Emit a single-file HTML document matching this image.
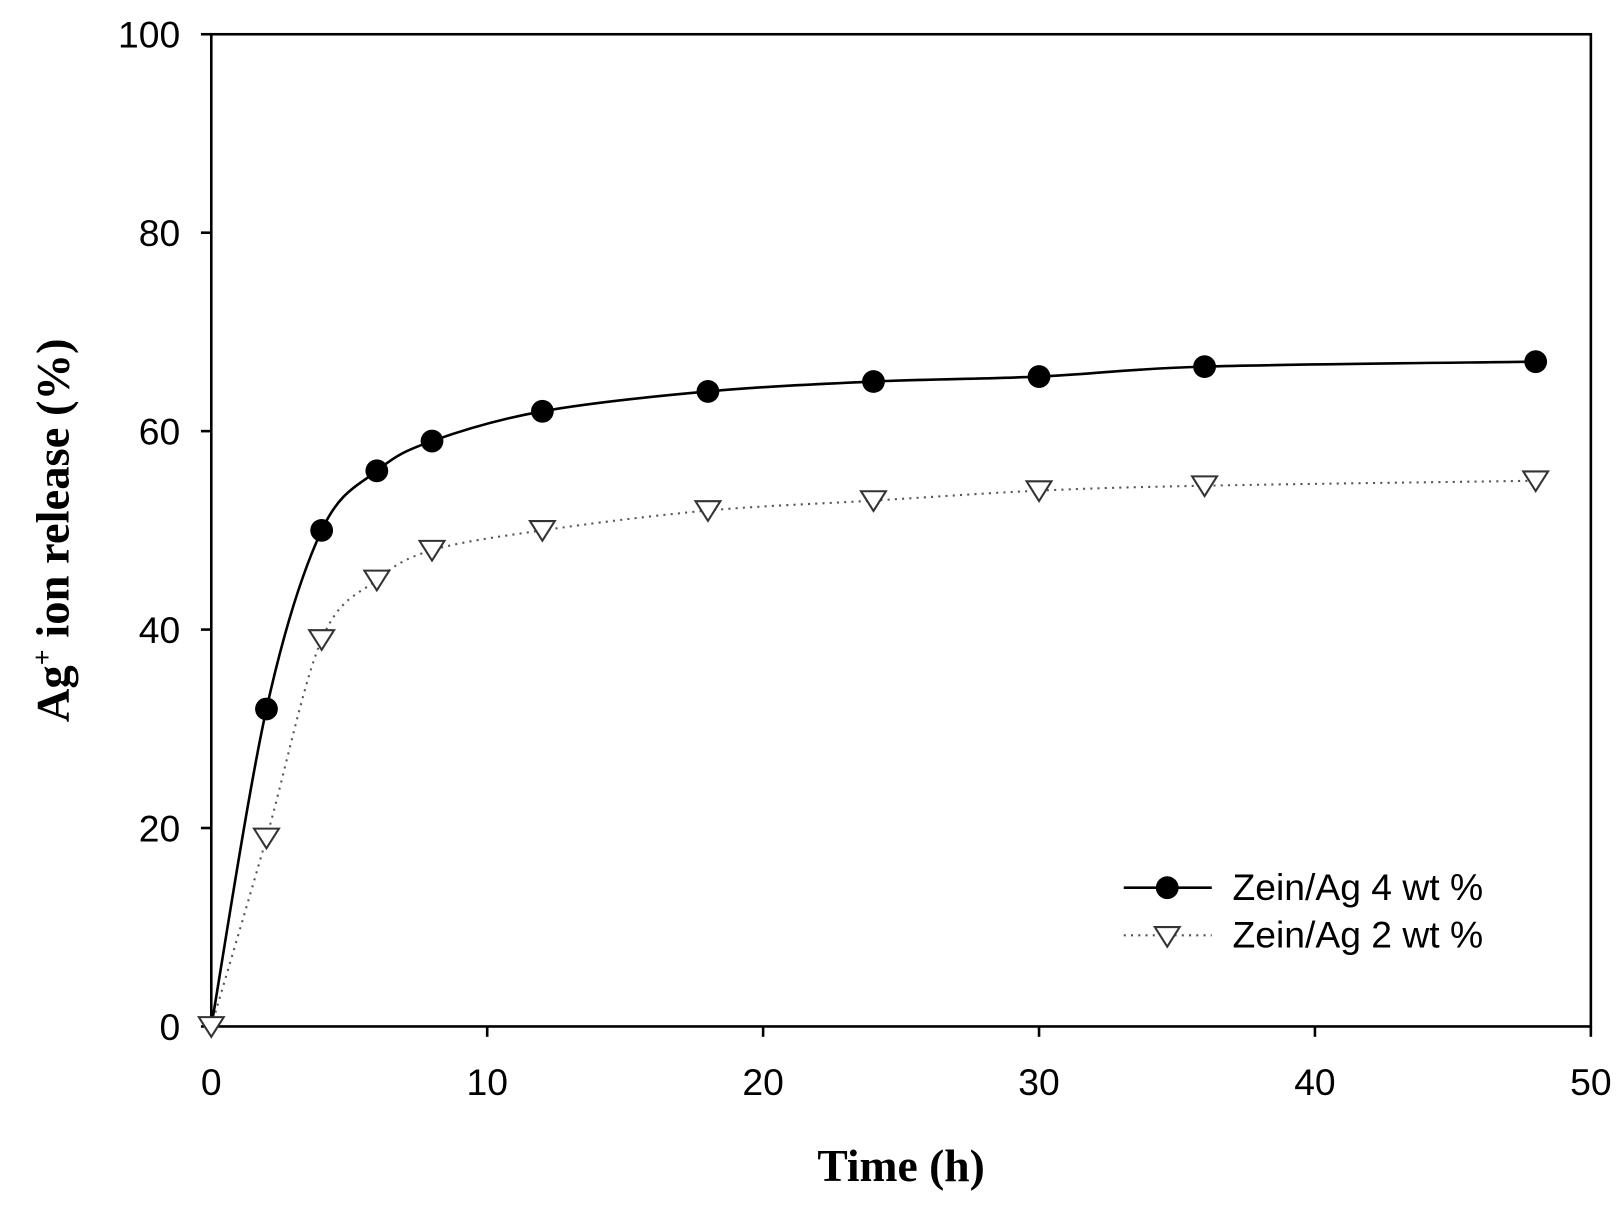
<!DOCTYPE html>
<html><head><meta charset="utf-8"><style>
html,body{margin:0;padding:0;background:#fff;}
svg text{font-family:"Liberation Sans",Arial,sans-serif;}
</style></head><body>
<svg id="chart" width="1624" height="1214" viewBox="0 0 1568 1172" xmlns="http://www.w3.org/2000/svg">
<g id="axes"></g>
<g id="series"></g>
<text x="870" y="1140" text-anchor="middle" font-size="44" font-weight="bold" style="font-family:'Liberation Serif',serif">Time (h)</text>
<text transform="translate(66,512) rotate(-90)" text-anchor="middle" font-size="45" font-weight="bold" style="font-family:'Liberation Serif',serif">Ag<tspan dy="-17" font-size="27">+</tspan><tspan dy="17"> ion release (%)</tspan></text>
<g>
<line x1="1085" y1="857" x2="1170" y2="857" stroke="#000" stroke-width="2.5"/>
<circle cx="1127" cy="857" r="11" fill="#000"/>
<text x="1190" y="869" font-size="36">Zein/Ag 4 wt %</text>
<line x1="1085" y1="903" x2="1170" y2="903" stroke="#555" stroke-width="2" stroke-dasharray="2,5"/>
<path d="M1115,895 L1139,895 L1127,914 Z" fill="#fff" stroke="#333" stroke-width="2"/>
<text x="1190" y="915" font-size="36">Zein/Ag 2 wt %</text>
</g>
</svg>
<script>
const times=[0,2,4,6,8,12,18,24,30,36,48];
const release4=[0,32,50,56,59,62,64,65,65.5,66.5,67];
const release2=[0,19,39,45,48,50,52,53,54,54.5,55];
const xTicks=[0,10,20,30,40,50];
const yTicks=[0,20,40,60,80,100];
const X0=204,X1=1536,Y0=991,Y1=33;
function xs(v){return X0+(v-0)/(50-0)*(X1-X0);}
function ys(v){return Y0-(v-0)/(100-0)*(Y0-Y1);}
const NS="http://www.w3.org/2000/svg";
function mk(tag,attrs,parent){const e=document.createElementNS(NS,tag);for(const k in attrs)e.setAttribute(k,attrs[k]);parent.appendChild(e);return e;}
const axes=document.getElementById('axes');
const frame=mk('rect',{x:X0,y:Y1,width:X1-X0,height:Y0-Y1,fill:'none',stroke:'#000','stroke-width':2.5},axes);


xTicks.forEach(t=>{
  const l=mk('line',{x1:xs(t),x2:xs(t),y1:Y0,y2:Y0+10,stroke:'#000','stroke-width':2.5},axes);
  
  
  const tx=mk('text',{x:xs(t),y:Y0+66,'text-anchor':'middle','font-size':36},axes);
  tx.textContent=t;
  
  
});
yTicks.forEach(t=>{
  const l=mk('line',{x1:X0-10,x2:X0,y1:ys(t),y2:ys(t),stroke:'#000','stroke-width':2.5},axes);
  
  
  const tx=mk('text',{x:X0-30,y:ys(t)+13,'text-anchor':'end','font-size':36},axes);
  tx.textContent=t;
  
  
});
function spline(vals){
  const p=times.map((t,i)=>[xs(t),ys(vals[i])]);
  let d='M'+p[0][0]+','+p[0][1];
  for(let i=0;i<p.length-1;i++){
    const p0=p[Math.max(0,i-1)],p1=p[i],p2=p[i+1],p3=p[Math.min(p.length-1,i+2)];
    const c1=[p1[0]+(p2[0]-p0[0])/6,p1[1]+(p2[1]-p0[1])/6];
    const c2=[p2[0]-(p3[0]-p1[0])/6,p2[1]-(p3[1]-p1[1])/6];
    d+=' C'+c1+' '+c2+' '+p2;
  }
  return d;
}
const ser=document.getElementById('series');
const l2=mk('path',{d:spline(release2),fill:'none',stroke:'#555','stroke-width':2,'stroke-dasharray':'2,5'},ser);


const l4=mk('path',{d:spline(release4),fill:'none',stroke:'#000','stroke-width':2.5},ser);


times.forEach((t,i)=>{
  const x=xs(t),y=ys(release2[i]);
  const tr=mk('path',{d:`M${x-12},${y-9} L${x+12},${y-9} L${x},${y+10} Z`,fill:'#fff',stroke:'#333','stroke-width':2},ser);
  
  
});
times.forEach((t,i)=>{
  if(i===0)return;
  const c=mk('circle',{cx:xs(t),cy:ys(release4[i]),r:11,fill:'#000'},ser);
  
  
});
</script>
</body></html>
